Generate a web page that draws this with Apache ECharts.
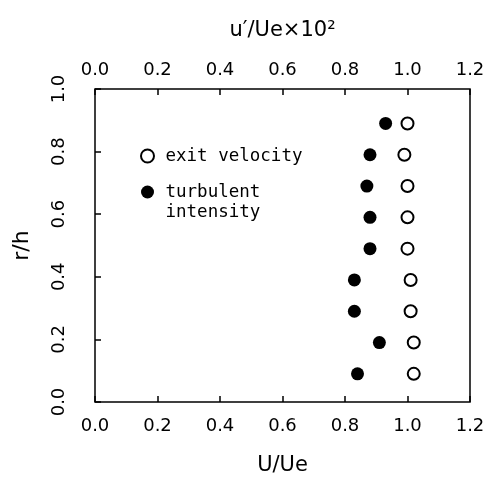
<!DOCTYPE html>
<html>
<head>
<meta charset="utf-8">
<script src="https://cdn.jsdelivr.net/npm/echarts@6/dist/echarts.min.js"></script>
<style>
html,body{margin:0;padding:0;background:#fff;}
#chart{width:488px;height:479px;}
</style>
</head>
<body>
<div id="chart"></div>
<script>
// r/h positions of the measurement points
const rOverH = [0.89, 0.79, 0.69, 0.59, 0.49, 0.39, 0.29, 0.19, 0.09];
// exit velocity U/Ue (bottom axis)
const exitVelocity = [1.00, 0.99, 1.00, 1.00, 1.00, 1.01, 1.01, 1.02, 1.02];
// turbulent intensity u'/Ue x 10^2 (top axis)
const turbulentIntensity = [0.93, 0.88, 0.87, 0.88, 0.88, 0.83, 0.83, 0.91, 0.84];
// tick values
const xTicks = [0.0, 0.2, 0.4, 0.6, 0.8, 1.0, 1.2];
const yTicks = [0.0, 0.2, 0.4, 0.6, 0.8, 1.0];

const font = 'DejaVu Sans';
const chart = echarts.init(document.getElementById('chart'), null, {renderer: 'canvas'});

const xCommon = {
  type: 'value',
  min: xTicks[0],
  max: xTicks[xTicks.length - 1],
  interval: 0.2,
  splitLine: {show: false},
  axisLine: {show: false},
  axisTick: {show: true, inside: true, length: 6, lineStyle: {color: '#000', width: 1.5}},
  axisLabel: {
    fontFamily: font, fontSize: 18, color: '#000',
    formatter: v => v.toFixed(1)
  },
  nameLocation: 'middle',
  nameTextStyle: {fontFamily: font, fontSize: 21, color: '#000'}
};

chart.setOption({
  backgroundColor: '#fff',
  animation: false,
  grid: {
    left: 95, right: 18, top: 89, bottom: 77,
    outerBoundsMode: 'none',
    containLabel: false,
    show: true, borderColor: '#000', borderWidth: 1.5, backgroundColor: 'transparent'
  },
  legend: {
    orient: 'vertical',
    left: 140, top: 146,
    padding: 0,
    itemWidth: 26, itemHeight: 13,
    itemGap: -4,
    selectedMode: false,
    formatter: name => name === 'turbulent intensity' ? ' \nturbulent\nintensity' : name,
    textStyle: {fontFamily: 'DejaVu Sans Mono', fontSize: 17.5, color: '#000', lineHeight: 20},
    data: [
      {name: 'exit velocity', icon: 'circle',
        itemStyle: {color: '#fff', borderColor: '#000', borderWidth: 2, opacity: 1}},
      {name: 'turbulent intensity', icon: 'circle',
        itemStyle: {color: '#000', opacity: 1}}
    ]
  },
  xAxis: [
    Object.assign({}, xCommon, {position: 'bottom', name: 'U/Ue', nameGap: 53,
      axisLabel: Object.assign({}, xCommon.axisLabel, {margin: 15})}),
    Object.assign({}, xCommon, {position: 'top', name: 'u\u2032/Ue\u00d710\u00b2', nameGap: 48,
      axisLabel: Object.assign({}, xCommon.axisLabel, {margin: 10})})
  ],
  yAxis: [{
    type: 'value',
    min: yTicks[0],
    max: yTicks[yTicks.length - 1],
    interval: 0.2,
    splitLine: {show: false},
    axisLine: {show: false},
    axisTick: {show: true, inside: true, length: 6, lineStyle: {color: '#000', width: 1.5}},
    axisLabel: {
      fontFamily: font, fontSize: 18, color: '#000', margin: 27, rotate: 90,
      formatter: v => v.toFixed(1)
    },
    name: 'r/h',
    nameLocation: 'middle',
    nameGap: 62,
    nameTextStyle: {fontFamily: font, fontSize: 22, color: '#000'}
  }],
  series: [
    {
      name: 'exit velocity',
      type: 'scatter',
      xAxisIndex: 0,
      symbol: 'circle',
      symbolSize: 12,
      itemStyle: {color: '#fff', borderColor: '#000', borderWidth: 2, opacity: 1},
      data: rOverH.map((r, i) => [exitVelocity[i], r])
    },
    {
      name: 'turbulent intensity',
      type: 'scatter',
      xAxisIndex: 1,
      symbol: 'circle',
      symbolSize: 13,
      itemStyle: {color: '#000', opacity: 1},
      data: rOverH.map((r, i) => [turbulentIntensity[i], r])
    }
  ]
});
</script>
</body>
</html>
